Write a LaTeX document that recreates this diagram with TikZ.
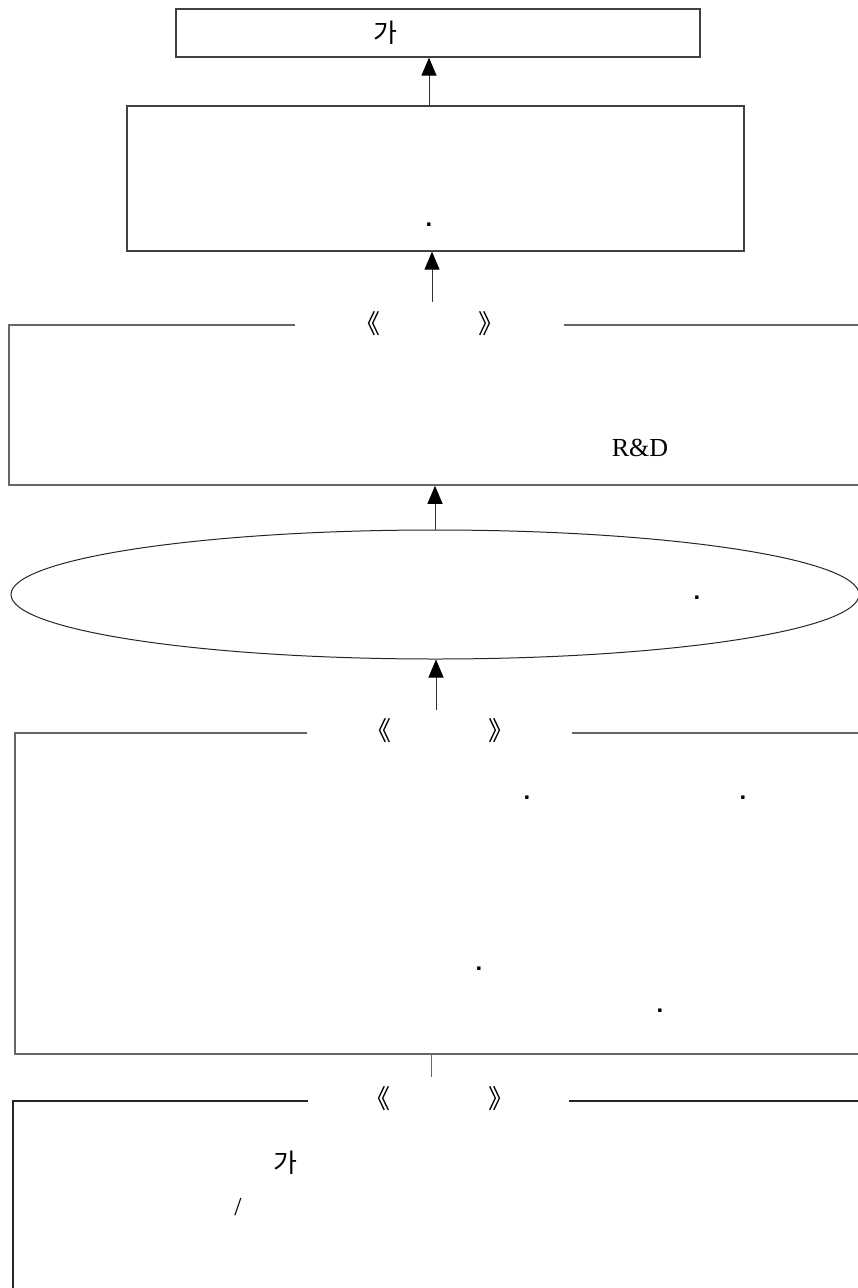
\documentclass[tikz,border=0pt]{standalone}
\usepackage{fontspec}
\setmainfont{Liberation Serif}
\newfontfamily\kor{Noto Sans CJK KR}
\newfontfamily\dotfont{Liberation Sans}
\usetikzlibrary{arrows.meta,shapes.geometric,positioning}
\tikzset{
  box/.style={draw=black!75, line width=1.3pt},
  frame/.style={draw=black!60, line width=1.8pt},
  gapfill/.style={fill=white, inner sep=0pt, minimum height=6pt},
  up arrow/.style={draw=black!80, line width=1pt, -{Triangle[width=15pt,length=18pt,color=black]}},
  kr/.style={font=\kor\fontsize{26}{30}\selectfont, inner sep=0pt},
  lat/.style={font=\fontsize{26}{30}\selectfont, inner sep=0pt},
  stop/.style={font=\dotfont\bfseries\fontsize{24}{28}\selectfont, inner sep=0pt, anchor=base},
}

\begin{document}
\begin{tikzpicture}[x=1pt,y=-1pt]
	\clip (0,0) rectangle (858,1288);
	
	% top two boxes
	\node[box, minimum width=524pt, minimum height=48pt] (goal) at (438,33) {};
	\node[kr] (goaltxt) at (385,33) {가};
	\node[box, minimum width=617pt, minimum height=145pt] (vision) at (435.5,178.5) {};
	\node[stop] (visiondot) at (429,226) {.};
	
	% strategy frame
	\node[frame, minimum width=900pt, minimum height=160pt, anchor=north west] (strategy) at (8,324) {};
	\node[gapfill, minimum width=269pt] (gapA) at (429.5,324) {};
	\node[kr] (openA) at (367,324) {《};
	\node[kr] (closeA) at (491,324) {》};
	\node[lat] (rnd) at (640,448) {R\&D};
	
	% core ellipse
	\node[ellipse, draw=black!85, line width=1pt, minimum width=848pt, minimum height=129pt] (core) at (435,594.5) {};
	\node[stop] (coredot) at (697,599) {.};
	
	% task frame
	\node[frame, minimum width=900pt, minimum height=321pt, anchor=north west] (task) at (14,732) {};
	\node[gapfill, minimum width=265pt] (gapB) at (439.5,732) {};
	\node[kr] (openB) at (378,731) {《};
	\node[kr] (closeB) at (501,731) {》};
	\node[stop] (dotB1) at (527,799) {.};
	\node[stop] (dotB2) at (743,799) {.};
	\node[stop] (dotB3) at (479,970) {.};
	\node[stop] (dotB4) at (660,1012) {.};
	
	% base frame
	\node[frame, draw=black!85, minimum width=900pt, minimum height=300pt, anchor=north west] (base) at (12,1100) {};
	\node[gapfill, minimum width=261pt] (gapC) at (438.5,1100) {};
	\node[kr] (openC) at (377,1099) {《};
	\node[kr] (closeC) at (501,1099) {》};
	\node[kr] (basetxt) at (285,1163) {가};
	\node[lat] (baseslash) at (238,1207) {/};
	
	% connectors
	\coordinate (s1) at (429,106);
	\coordinate (s2) at (432,302);
	\coordinate (s3) at (435,530);
	\coordinate (s4) at (436,710);
	\coordinate (s5) at (431,1077);
	\draw[up arrow] (s1) -- (s1 |- goal.south);
	\draw[up arrow] (s2) -- (s2 |- vision.south);
	\draw[up arrow] (s3) -- (s3 |- strategy.south);
	\draw[up arrow] (s4) -- (s4 |- core.south);
	\draw[draw=black!60, line width=1pt] (s5) -- (s5 |- task.south);
\end{tikzpicture}
\end{document}
